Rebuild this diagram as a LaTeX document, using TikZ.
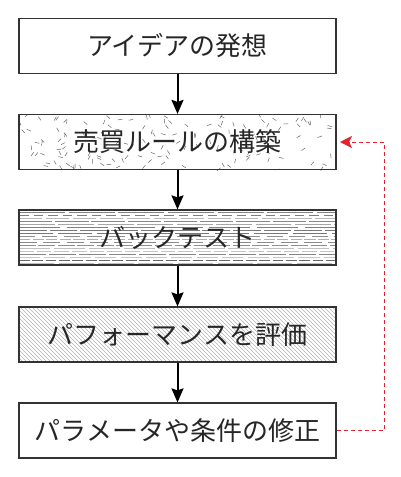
\documentclass[tikz,border=0pt]{standalone}
\usepackage{fontspec}
\setmainfont{Noto Sans CJK JP}
\usetikzlibrary{arrows.meta}
\definecolor{fbred}{HTML}{E5202E}
\tikzset{
  box/.style={draw=black!80, line width=1.2pt, minimum width=317pt, minimum height=55pt, inner sep=0pt, text=black!85, font=\fontsize{26}{30}\selectfont},
  flow/.style={-{Stealth[length=14pt,width=12pt,inset=2pt]}, line width=2pt, black},
  back/.style={-{Stealth[length=12pt,width=12pt,inset=3pt]}, draw=fbred, line width=0.9pt, dash pattern=on 4pt off 3pt}
}
\begin{document}
\begin{tikzpicture}[x=1pt,y=-1pt]
\useasboundingbox (0,0) rectangle (400,477);
% box2 pattern: random short dashes
\begin{scope}
\clip (19,114) rectangle (336,170);
\pgfmathsetseed{7}
\foreach \i in {1,...,150}{
  \pgfmathsetmacro\px{19+317*rnd}
  \pgfmathsetmacro\py{114+56*rnd}
  \pgfmathsetmacro\ang{360*rnd}
  \draw[black!60, line width=0.5pt] (\px,\py) -- ++(\ang:4.5pt);
}
\end{scope}
% box3 pattern: horizontal lines
\begin{scope}
\clip (19,210) rectangle (336,265);
\pgfmathsetseed{11}
\foreach \j in {0,...,17}{
  \pgfmathsetmacro\yy{212+3*\j}
  \pgfmathsetmacro\gg{int(20+45*rnd)}
  \pgfmathsetmacro\aa{8+40*rnd}
  \pgfmathsetmacro\bb{2+5*rnd}
  \draw[black!\gg, line width=0.5pt, dash pattern=on \aa pt off \bb pt] (19,\yy) -- (336,\yy);
}
\end{scope}
% box4 pattern: diagonal lines
\begin{scope}
\clip (19,307) rectangle (336,362);
\foreach \k in {-60,-56,...,340}{
  \draw[black!30, line width=0.4pt] (\k,307) -- (\k+55,362);
}
\end{scope}
% boxes
\node[box] (b1) at (177.5,46) {アイデアの発想};
\node[box] (b2) at (177.5,142) {売買ルールの構築};
\node[box] (b3) at (177.5,237.5) {バックテスト};
\node[box] (b4) at (177.5,334.5) {パフォーマンスを評価};
\node[box] (b5) at (177.5,430.5) {パラメータや条件の修正};
% arrows
\draw[flow] (b1) -- (b2);
\draw[flow] (b2) -- (b3);
\draw[flow] (b3) -- (b4);
\draw[flow] (b4) -- (b5);
% feedback
\coordinate (c1) at (384,430.5);
\coordinate (c2) at (384,142);
\coordinate (tip) at (340,142);
\draw[back] (b5.east) -- (c1) -- (c2) -- (tip);
\end{tikzpicture}
\end{document}
